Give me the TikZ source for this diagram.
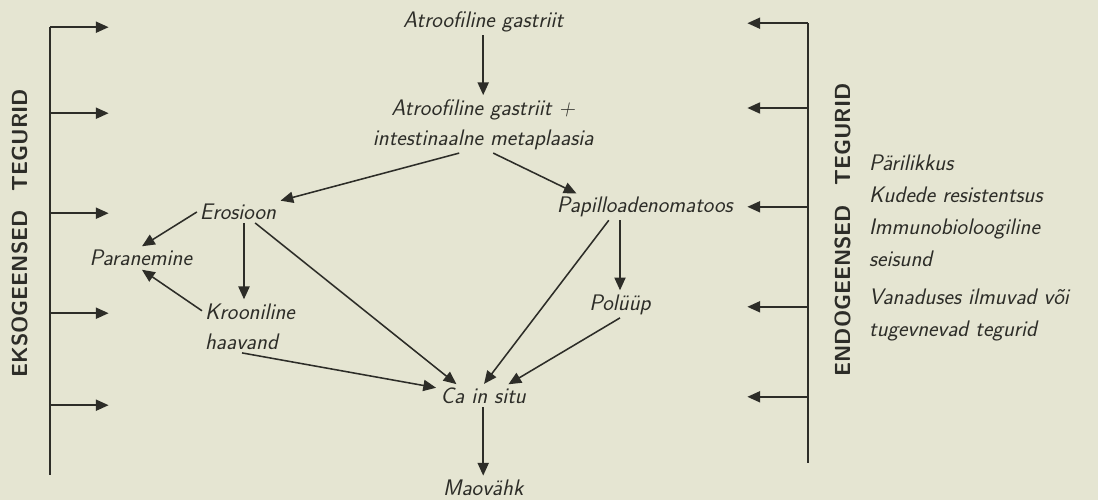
\documentclass[tikz,border=0pt]{standalone}
\usepackage{fontspec}
\usepackage{xcolor}
\usetikzlibrary{arrows.meta}

\definecolor{paper}{RGB}{229,229,210}
\definecolor{ink}{RGB}{45,45,40}

\begin{document}
\begin{tikzpicture}[
    font=\sffamily\itshape\fontsize{16}{19}\selectfont,
    every node/.style={text=ink, inner sep=2pt},
    arr/.style={draw=ink, line width=1.1pt, -{Triangle[length=0.32cm, width=0.28cm]}, shorten >=1pt},
    bar/.style={draw=ink, line width=1.1pt},
    side/.style={rotate=90, font=\sffamily\bfseries\upshape\fontsize{15.5}{18}\selectfont}
]

    % Paper and frame
    \fill[paper] (0,0) rectangle (27.45,-12.5);
    \useasboundingbox (0,0) rectangle (27.45,-12.5);

    % Coordinates (left bar)
    \coordinate (ltop) at (1.25, -0.68);
    \coordinate (lbot) at (1.25, -11.88);
    \coordinate (l1) at (1.25, -0.68);   \coordinate (lt1) at (2.75, -0.68);
    \coordinate (l2) at (1.25, -2.83);   \coordinate (lt2) at (2.75, -2.83);
    \coordinate (l3) at (1.25, -5.33);   \coordinate (lt3) at (2.75, -5.33);
    \coordinate (l4) at (1.25, -7.83);   \coordinate (lt4) at (2.75, -7.83);
    \coordinate (l5) at (1.25, -10.13);  \coordinate (lt5) at (2.75, -10.13);

    % Coordinates (right bar)
    \coordinate (rtop) at (20.2, -0.58);
    \coordinate (rbot) at (20.2, -11.58);
    \coordinate (r1) at (20.2, -0.58);   \coordinate (rt1) at (18.65, -0.58);
    \coordinate (r2) at (20.2, -2.7);    \coordinate (rt2) at (18.65, -2.7);
    \coordinate (r3) at (20.2, -5.17);   \coordinate (rt3) at (18.65, -5.17);
    \coordinate (r4) at (20.2, -7.67);   \coordinate (rt4) at (18.65, -7.67);
    \coordinate (r5) at (20.2, -9.92);   \coordinate (rt5) at (18.65, -9.92);

    % Left bar: exogenous factors
    \draw[bar] (ltop) -- (lbot);
    \draw[arr] (l1) -- (lt1);
    \draw[arr] (l2) -- (lt2);
    \draw[arr] (l3) -- (lt3);
    \draw[arr] (l4) -- (lt4);
    \draw[arr] (l5) -- (lt5);
    \node[side] (exo) at (0.5, -5.83) {EKSOGEENSED\hspace{0.5em} TEGURID};

    % Right bar: endogenous factors
    \draw[bar] (rtop) -- (rbot);
    \draw[arr] (r1) -- (rt1);
    \draw[arr] (r2) -- (rt2);
    \draw[arr] (r3) -- (rt3);
    \draw[arr] (r4) -- (rt4);
    \draw[arr] (r5) -- (rt5);
    \node[side] (endo) at (21.08, -5.75) {ENDOGEENSED\hspace{0.5em} TEGURID};

    % Endogenous factor list
    \node[anchor=north west, align=left, font=\sffamily\itshape\fontsize{16}{22.8}\selectfont]
        (factors) at (21.65, -3.8) {P\"arilikkus\\Kudede resistentsus\\Immunobioloogiline\\seisund\\[4pt]Vanaduses ilmuvad v\~oi\\tugevnevad tegurid};

    % Stages
    \node (ag1)   at (12.08, -0.55) {Atroofiline gastriit};
    \node[align=center, font=\sffamily\itshape\fontsize{16}{21.5}\selectfont]
          (ag2)   at (12.08, -3.12) {Atroofiline gastriit +\\intestinaalne metaplaasia};
    \node (eros)  at (5.95, -5.3)   {Erosioon};
    \node (papil) at (16.12, -5.18) {Papilloadenomatoos};
    \node (paran) at (3.52, -6.45)  {Paranemine};
    \node[align=left, anchor=west, font=\sffamily\itshape\fontsize{16}{21.5}\selectfont]
          (kroon) at (5.05, -8.17)  {Krooniline\\haavand};
    \node (polyp) at (15.5, -7.62)  {Pol\"u\"up};
    \node (cis)   at (12.08, -9.9)  {Ca in situ};
    \node (mao)   at (12.08, -12.2) {Maov\"ahk};

    % Connections
    \draw[arr] (ag1) -- (ag2);
    \draw[arr] ([xshift=-0.6cm]ag2.south) -- (eros.north east);
    \draw[arr] ([xshift=0.25cm]ag2.south) -- ([xshift=0.6cm]papil.north west);
    \draw[arr] (eros.west) -- (paran.north);
    \draw[arr] ([xshift=0.15cm]eros.south) -- ([xshift=0.15cm]eros.south |- kroon.north);
    \draw[arr] ([yshift=0.4cm]kroon.west) -- (paran.south);
    \draw[arr] ([xshift=-0.6cm]eros.south east) -- ([xshift=0.5cm]cis.north west);
    \draw[arr] ([xshift=-0.2cm]kroon.south) -- ([yshift=0.2cm]cis.west);
    \draw[arr] ([xshift=-0.9cm]papil.south) -- (cis.north);
    \draw[arr] (polyp.north |- papil.south) -- (polyp.north);
    \draw[arr] (polyp.south) -- ([xshift=0.6cm]cis.north);
    \draw[arr] (cis) -- (mao);

\end{tikzpicture}
\end{document}
